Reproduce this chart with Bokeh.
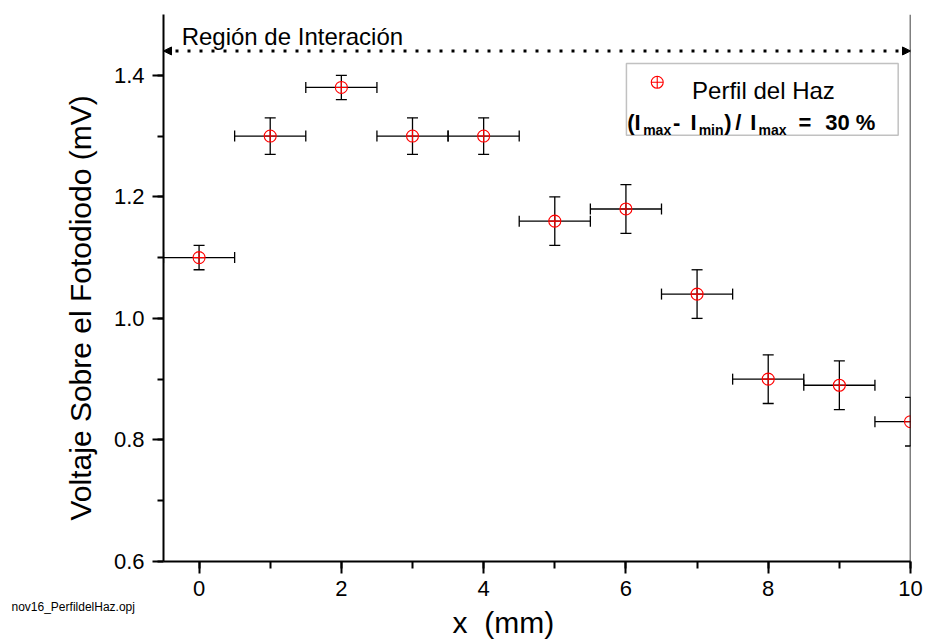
import math
from bokeh.plotting import figure
from bokeh.models import (Range1d, SingleIntervalTicker, PrintfTickFormatter, Span, Arrow,
                          NormalHead, Label, BoxAnnotation, ColumnDataSource, Title)
from bokeh.embed import file_html
from bokeh.resources import INLINE

# ---- data ----
pos_mm = [0, 1, 2, 3, 4, 5, 6, 7, 8, 9, 10]
voltage = [1.10, 1.30, 1.38, 1.30, 1.30, 1.16, 1.18, 1.04, 0.90, 0.89, 0.83]
voltage_err = [0.02, 0.03, 0.02, 0.03, 0.03, 0.04, 0.04, 0.04, 0.04, 0.04, 0.04]
pos_err = [0.5] * 11
region_y = 1.44
x_ticks_interval = 2
y_ticks_interval = 0.2

FONT = "Liberation Sans"

src = ColumnDataSource(dict(
    x=pos_mm, y=voltage,
    yl=[v - e for v, e in zip(voltage, voltage_err)],
    yu=[v + e for v, e in zip(voltage, voltage_err)],
    xl=[x - e for x, e in zip(pos_mm, pos_err)],
    xu=[x + e for x, e in zip(pos_mm, pos_err)],
))

p = figure(width=925, height=641, output_backend="svg", toolbar_location=None,
           x_range=Range1d(-0.5, 10), y_range=Range1d(0.6, 1.5),
           min_border_left=163, min_border_right=15, min_border_top=14, min_border_bottom=80)
p.outline_line_color = None
p.xgrid.visible = False
p.ygrid.visible = False
p.background_fill_color = "white"
p.border_fill_color = "white"

# axes
p.xaxis.ticker = SingleIntervalTicker(interval=x_ticks_interval, num_minor_ticks=2)
p.yaxis.ticker = SingleIntervalTicker(interval=y_ticks_interval, num_minor_ticks=2)
p.yaxis.formatter = PrintfTickFormatter(format="%.1f")
for ax in (p.xaxis[0], p.yaxis[0]):
    ax.axis_line_width = 2
    ax.axis_line_color = "black"
    ax.major_tick_line_width = 2
    ax.minor_tick_line_width = 2
    ax.major_tick_line_color = "black"
    ax.minor_tick_line_color = "black"
    ax.major_tick_in = 0
    ax.minor_tick_in = 0
    ax.major_label_text_font = FONT
    ax.major_label_text_font_size = "22px"
    ax.major_label_text_color = "black"
p.xaxis.major_tick_out = 12
p.xaxis.minor_tick_out = 7
p.yaxis.major_tick_out = 11
p.yaxis.minor_tick_out = 6
p.xaxis.major_label_standoff = 7
p.yaxis.major_label_standoff = 8

# axis titles and file name as side-panel titles
p.add_layout(Title(text="Voltaje Sobre el Fotodiodo (mV)", align="left", offset=41,
                   text_font=FONT, text_font_size="30px", text_font_style="normal",
                   text_color="black", standoff=28), "left")
p.add_layout(Title(text="nov16_PerfildelHaz.opj", align="left", offset=-152,
                   vertical_align="top", text_font=FONT, text_font_size="12px",
                   text_font_style="normal", text_color="black", standoff=2), "below")
p.add_layout(Title(text="x\u00a0 (mm)", align="left", offset=289, vertical_align="top",
                   text_font=FONT, text_font_size="30px", text_font_style="normal",
                   text_color="black", standoff=-22), "below")

# right frame line
p.add_layout(Span(location=10, dimension="height", line_color="black", line_width=1.5))

# legend box (under the glyphs)
p.add_layout(BoxAnnotation(left=6.007, right=9.827, bottom=1.3012, top=1.4193,
                           fill_color="white", fill_alpha=1, line_color="#333333",
                           line_width=1.5, level="underlay"))

# error bars
p.segment(x0="x", y0="yl", x1="x", y1="yu", source=src, line_color="black", line_width=1.3)
p.segment(x0="xl", y0="y", x1="xu", y1="y", source=src, line_color="black", line_width=1.3)
p.scatter(x="x", y="yl", source=src, marker="dash", size=11, line_color="black", line_width=1.3)
p.scatter(x="x", y="yu", source=src, marker="dash", size=11, line_color="black", line_width=1.3)
p.scatter(x="xl", y="y", source=src, marker="dash", angle=math.pi / 2, size=11,
          line_color="black", line_width=1.3)
p.scatter(x="xu", y="y", source=src, marker="dash", angle=math.pi / 2, size=11,
          line_color="black", line_width=1.3)
# points
p.scatter(x="x", y="y", source=src, marker="circle_cross", size=12,
          line_color="#ff0000", fill_alpha=0, line_width=1.1)

# region arrow
p.add_layout(Arrow(x_start=-0.5, y_start=region_y, x_end=10, y_end=region_y,
                   line_color="black", line_width=3, line_dash="3 9",
                   start=NormalHead(size=8, fill_color="black", line_color="black"),
                   end=NormalHead(size=8, fill_color="black", line_color="black")))
p.add_layout(Label(x=-0.245, y=1.464, text="Región de Interación", text_font=FONT,
                   text_font_size="24px", text_color="black", text_baseline="alphabetic"))

# legend content
p.scatter(x=[6.44], y=[1.3885], marker="circle_cross", size=12,
          line_color="#ff0000", fill_alpha=0, line_width=1.1)
p.add_layout(Label(x=6.93, y=1.3753, text="Perfil del Haz", text_font=FONT,
                   text_font_size="24px", text_color="black", text_baseline="alphabetic"))

main_y = 1.3231
sub_y = 1.3095
pieces = [
    (6.019, main_y, "(I", "22px"),
    (6.242, sub_y, "max", "14px"),
    (6.663, main_y, "-", "22px"),
    (6.906, main_y, "I", "22px"),
    (7.022, sub_y, "min", "14px"),
    (7.383, main_y, ")", "22px"),
    (7.538, main_y, "/", "22px"),
    (7.749, main_y, "I", "22px"),
    (7.865, sub_y, "max", "14px"),
    (8.427, main_y, "=", "22px"),
    (8.802, main_y, "30 %", "22px"),
]
for x, y, t, fs in pieces:
    p.add_layout(Label(x=x, y=y, text=t, text_font=FONT, text_font_size=fs,
                       text_font_style="bold", text_color="black", text_baseline="alphabetic"))

open("out.html", "w").write(file_html(p, INLINE))
